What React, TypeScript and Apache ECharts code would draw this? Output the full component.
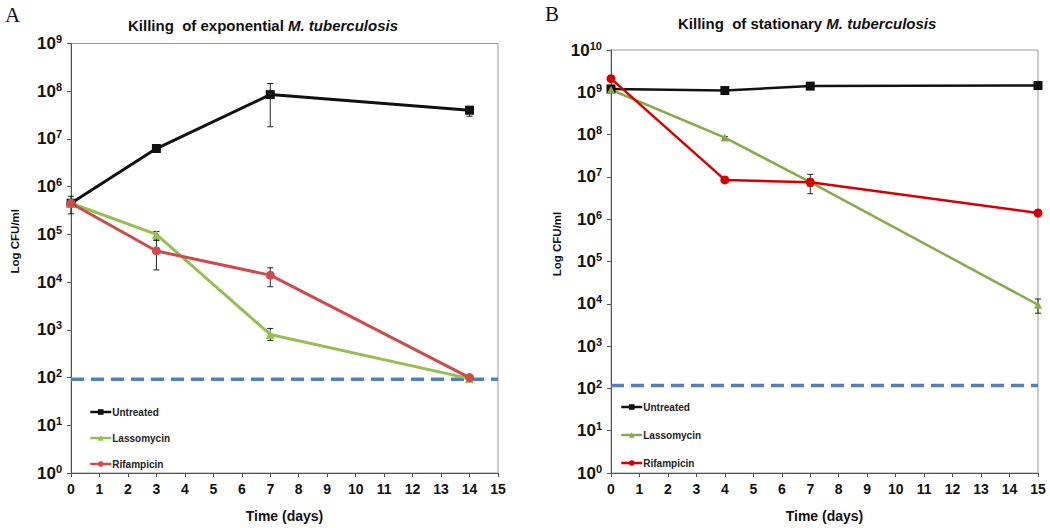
import React, { useEffect, useRef } from 'react';
import * as echarts from 'echarts';

const FONT = 'Arial, "Liberation Sans", Helvetica, sans-serif';

// ---------- data ----------
const seriesNames = ['Untreated', 'Lassomycin', 'Rifampicin'];

const daysA = [0, 3, 7, 14];
const untreatedA = [4.5e5, 6.3e6, 8.5e7, 4.0e7];
const lassomycinA = [4.5e5, 1.0e5, 8.0e2, 95];
const rifampicinA = [4.5e5, 4.5e4, 1.4e4, 100];
const untreatedErrA = [[2.7e5, 6.3e5], [5.5e6, 7.2e6], [1.8e7, 1.45e8], [3.0e7, 4.8e7]];
const lassomycinErrA = [[4.2e5, 4.8e5], [7.5e4, 1.15e5], [6.0e2, 1.07e3], [90, 105]];
const rifampicinErrA = [[4.2e5, 4.8e5], [1.8e4, 7.6e4], [8.0e3, 2.0e4], [90, 105]];
const limitA = 92;

const daysB = [0, 4, 7, 15];
const untreatedB = [1.2e9, 1.1e9, 1.4e9, 1.45e9];
const lassomycinB = [1.15e9, 8.5e7, 7.5e6, 9.5e3];
const rifampicinB = [2.1e9, 8.5e6, 7.5e6, 1.4e6];
const untreatedErrB = [[1.1e9, 1.3e9], [1.0e9, 1.2e9], [1.3e9, 1.6e9], [1.2e9, 1.6e9]];
const lassomycinErrB = [[1.0e9, 1.3e9], [8.0e7, 9.0e7], [6.0e6, 9.0e6], [6.0e3, 1.3e4]];
const rifampicinErrB = [[2.0e9, 2.2e9], [8.0e6, 9.5e6], [4.0e6, 1.15e7], [1.3e6, 1.5e6]];
const limitB = 117;

const xMin = 0;
const xMax = 15;
const yMaxA = 1e9;
const yMaxB = 1e10;

const titleA = ['Killing  of exponential ', 'M. tuberculosis'];
const titleB = ['Killing  of stationary ', 'M. tuberculosis'];
const yName = 'Log CFU/ml';
const xName = 'Time (days)';

// ---------- colours ----------
const BLACK = '#111111';
const GREEN_A = '#96BE50';
const RED_A = '#CF4B4B';
const GREEN_B = '#87AB48';
const RED_B = '#D60000';
const BLUE = '#4F81BD';

function lineSeries(name: string, days: number[], vals: number[], color: string, symbol: string, size: number, width: number, gi: number) {
  return {
    type: 'line',
    name,
    xAxisIndex: gi,
    yAxisIndex: gi,
    data: days.map((d, i) => [d, vals[i]]),
    symbol,
    symbolSize: size,
    showAllSymbol: true,
    lineStyle: { color, width },
    itemStyle: { color, borderWidth: 0 },
    z: 3,
  };
}

function errSeries(days: number[], errs: number[][], gi: number) {
  return {
    type: 'custom',
    name: 'err',
    xAxisIndex: gi,
    yAxisIndex: gi,
    silent: true,
    z: 2,
    data: days.map((d, i) => [d, errs[i][0], errs[i][1]]),
    encode: { x: 0, y: [1, 2] },
    renderItem: (params: any, api: any) => {
      const x = api.value(0);
      const lo = api.value(1);
      const hi = api.value(2);
      const top = api.coord([x, hi]);
      const bot = api.coord([x, lo]);
      const hw = 3;
      const style = { stroke: '#222', lineWidth: 1 };
      return {
        type: 'group',
        children: [
          { type: 'line', shape: { x1: top[0], y1: top[1], x2: bot[0], y2: bot[1] }, style },
          { type: 'line', shape: { x1: top[0] - hw, y1: top[1], x2: top[0] + hw, y2: top[1] }, style },
          { type: 'line', shape: { x1: bot[0] - hw, y1: bot[1], x2: bot[0] + hw, y2: bot[1] }, style },
        ],
      };
    },
  };
}

function limitSeries(val: number, gi: number) {
  return {
    type: 'line',
    name: 'limit',
    xAxisIndex: gi,
    yAxisIndex: gi,
    data: [[xMin, val], [xMax, val]],
    symbol: 'none',
    silent: true,
    lineStyle: { color: BLUE, width: 3.5, type: [13, 7] },
    z: 1,
  };
}

function xAxis(gi: number) {
  return {
    type: 'value',
    gridIndex: gi,
    min: xMin,
    max: xMax,
    interval: 1,
    name: xName,
    nameLocation: 'middle',
    nameGap: 36,
    nameTextStyle: { fontFamily: FONT, fontSize: 14, fontWeight: 'bold', color: '#111' },
    axisLine: { show: true, lineStyle: { color: '#555', width: 1 } },
    axisTick: { show: true, inside: false, length: 4, lineStyle: { color: '#555' } },
    axisLabel: { fontFamily: FONT, fontSize: 14, fontWeight: 'bold', color: '#111', margin: 9 },
    splitLine: { show: false },
  };
}

function yAxis(gi: number, max: number, nameGap: number, namePad: number) {
  return {
    type: 'log',
    logBase: 10,
    gridIndex: gi,
    min: 1,
    max,
    interval: 1,
    name: yName,
    nameLocation: 'middle',
    nameGap,
    nameRotate: 90,
    nameTextStyle: { fontFamily: FONT, fontSize: 11.5, fontWeight: 'bold', color: '#111', padding: [0, 0, 0, namePad] },
    axisLine: { show: true, lineStyle: { color: '#555', width: 1 } },
    axisTick: { show: true, inside: false, length: 4, lineStyle: { color: '#555' } },
    axisLabel: {
      margin: 9,
      formatter: (v: number) => `{b|10}{s|${Math.round(Math.log10(v))}}`,
      rich: {
        b: { fontFamily: FONT, fontSize: 17, fontWeight: 'bold', color: '#111' },
        s: { fontFamily: FONT, fontSize: 11, fontWeight: 'bold', color: '#111', padding: [0, 0, 9, 0] },
      },
    },
    splitLine: { show: false },
  };
}

function titleOpt(parts: string[], left: number, top: number) {
  const base = { fontFamily: FONT, fontSize: 15, fontWeight: 'bold', color: '#111' };
  return {
    text: `{a|${parts[0]}}{i|${parts[1]}}`,
    left,
    top,
    padding: 0,
    textStyle: { rich: { a: base, i: { ...base, fontStyle: 'italic' } } },
  };
}

function legendOpt(left: number, top: number, gap: number, colors: string[]) {
  return {
    orient: 'vertical',
    left,
    top,
    itemWidth: 21,
    itemHeight: 7,
    itemGap: gap,
    padding: 0,
    selectedMode: false,
    textStyle: { fontFamily: FONT, fontSize: 10, fontWeight: 'bold', color: '#222', padding: [0, 0, 0, -4] },
    data: seriesNames.map((n, i) => ({
      name: n,
      itemStyle: { color: colors[i] },
      lineStyle: { color: colors[i], width: 2.5 },
    })),
  };
}

export default function App() {
  const ref = useRef<HTMLDivElement>(null);

  useEffect(() => {
    if (!ref.current) return;
    const chart = echarts.init(ref.current, undefined, { renderer: 'svg' });
    const option = {
      animation: false,
      backgroundColor: '#ffffff',
      title: [titleOpt(titleA, 128, 18), titleOpt(titleB, 678, 16)],
      legend: [
        legendOpt(89, 407, 16, [BLACK, GREEN_A, RED_A]),
        legendOpt(620, 402, 18, [BLACK, GREEN_B, RED_B]),
      ],
      grid: [
        { left: 71, top: 43.5, width: 427, height: 436, show: true, borderColor: '#999', borderWidth: 1, backgroundColor: 'transparent' },
        { left: 611, top: 50, width: 427, height: 429, show: true, borderColor: '#999', borderWidth: 1, backgroundColor: 'transparent' },
      ],
      xAxis: [xAxis(0), xAxis(1)],
      yAxis: [yAxis(0, yMaxA, 50, 34), yAxis(1, yMaxB, 48, 35)],
      graphic: [
        { type: 'text', x: 5, y: 4, style: { text: 'A', font: '21px "Liberation Serif", "Times New Roman", serif', fill: '#111', textVerticalAlign: 'top' } },
        { type: 'text', x: 545, y: 3, style: { text: 'B', font: '21px "Liberation Serif", "Times New Roman", serif', fill: '#111', textVerticalAlign: 'top' } },
      ],
      series: [
        limitSeries(limitA, 0),
        limitSeries(limitB, 1),
        errSeries(daysA, untreatedErrA, 0),
        errSeries(daysA, lassomycinErrA, 0),
        errSeries(daysA, rifampicinErrA, 0),
        errSeries(daysB, untreatedErrB, 1),
        errSeries(daysB, lassomycinErrB, 1),
        errSeries(daysB, rifampicinErrB, 1),
        lineSeries(seriesNames[0], daysA, untreatedA, BLACK, 'rect', 9, 3, 0),
        lineSeries(seriesNames[1], daysA, lassomycinA, GREEN_A, 'triangle', 9, 3, 0),
        lineSeries(seriesNames[2], daysA, rifampicinA, RED_A, 'circle', 9, 3, 0),
        lineSeries(seriesNames[0], daysB, untreatedB, BLACK, 'rect', 9, 2.5, 1),
        lineSeries(seriesNames[1], daysB, lassomycinB, GREEN_B, 'triangle', 8, 2.5, 1),
        lineSeries(seriesNames[2], daysB, rifampicinB, RED_B, 'circle', 9, 2.5, 1),
      ],
    };
    chart.setOption(option as any);
    return () => chart.dispose();
  }, []);

  return (
    <div
      ref={ref}
      style={{ position: 'absolute', left: 0, top: 0, width: 1050, height: 528, background: '#fff' }}
    />
  );
}
